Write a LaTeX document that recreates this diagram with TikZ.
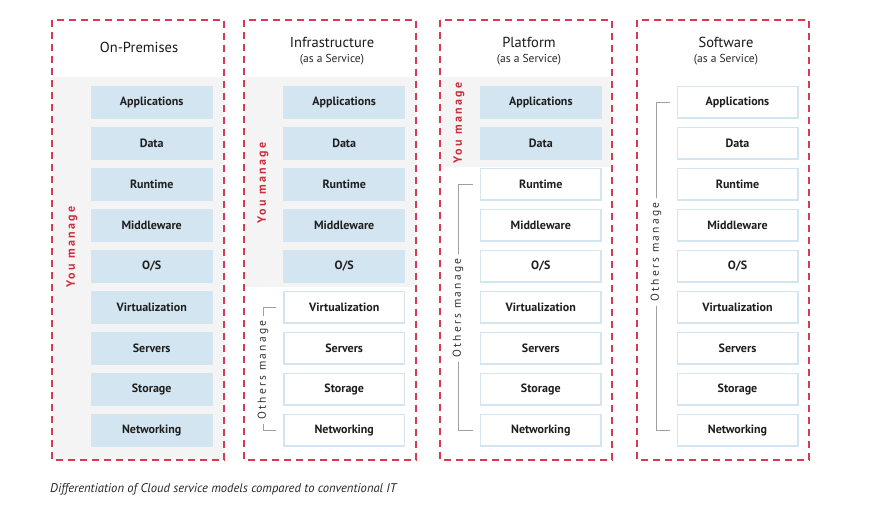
\documentclass[tikz,border=0pt]{standalone}
\usepackage{fontspec}
\setmainfont{PT Sans}
\definecolor{dashred}{HTML}{D93A52}
\definecolor{cellblue}{HTML}{D3E5F1}
\definecolor{bggray}{HTML}{F4F4F4}
\definecolor{brgray}{HTML}{A0A0A0}
\definecolor{youred}{HTML}{CC2E3E}
\begin{document}
\begin{tikzpicture}[x=1pt,y=-1pt,
  cell/.style={minimum width=122pt, minimum height=33pt, inner sep=0pt,
    font=\fontsize{12}{14}\selectfont\bfseries, text=black!88},
  own/.style={cell, fill=cellblue},
  ext/.style={cell, minimum width=120.5pt, minimum height=31.5pt, fill=white, draw=cellblue, line width=1.5pt},
  frame/.style={draw=dashred, line width=1.3pt, dash pattern=on 7pt off 5pt},
  title/.style={font=\fontsize{14.5}{16}\selectfont, text=black!90, inner sep=0pt},
  sub/.style={font=\fontsize{11.5}{13}\selectfont, text=black!85, inner sep=0pt},
  youm/.style={rotate=90, text=youred, inner sep=0pt,
    font=\fontsize{12}{14}\selectfont\bfseries\addfontfeatures{LetterSpace=20}},
  othm/.style={rotate=90, text=black!80, inner sep=4pt,
    font=\fontsize{11.5}{13}\selectfont\addfontfeatures{LetterSpace=19}},
  br/.style={draw=brgray, line width=1pt}
]
\useasboundingbox (0,0) rectangle (876,510);

% gray "you manage" backgrounds
\fill[bggray] (52,77) rectangle (224,460);
\fill[bggray] (244,77) rectangle (416,287);
\fill[bggray] (440,77) rectangle (612,167);

% dashed frames
\draw[frame] (52,20) rectangle (224,460);
\draw[frame] (244,20) rectangle (416,460);
\draw[frame] (440,20) rectangle (612,460);
\draw[frame] (637,20) rectangle (809,460);

% titles
\node[title] (t1) at (139,47) {On-Premises};
\node[title] (t2) at (332,42.5) {Infrastructure};
\node[sub] (s2) at (332,59.5) {(as a Service)};
\node[title] (t3) at (529,42.5) {Platform};
\node[sub] (s3) at (529,59.5) {(as a Service)};
\node[title] (t4) at (726,42.5) {Software};
\node[sub] (s4) at (726,59.5) {(as a Service)};

% cells
\foreach \cx/\n [count=\c] in {151.7/9, 344.2/5, 540.8/2, 737.5/0} {
  \foreach \lab [count=\r] in {Applications,Data,Runtime,Middleware,O/S,Virtualization,Servers,Storage,Networking} {
    \ifnum\r>\n\relax
      \tikzset{cur/.style={ext}}
    \else
      \tikzset{cur/.style={own}}
    \fi
    \node[cur] (c\c r\r) at (\cx, 61.5+41*\r) {\lab};
  }
}

% "You manage" labels
\node[youm] (y1) at (72,247) {You manage};
\node[youm] (y2) at (263,183) {You manage};
\node[youm] (y3) at (459,123) {You manage};

% "Others manage" brackets
\node[othm] (o2) at (263,370) {Others manage};
\draw[br] (o2.east) |- ([xshift=-7pt]c2r6.west);
\draw[br] (o2.west) |- ([xshift=-7pt]c2r9.west);

\node[othm] (o3) at (458,308) {Others manage};
\draw[br] (o3.east) |- ([xshift=-7pt]c3r3.west);
\draw[br] (o3.west) |- ([xshift=-7pt]c3r9.west);

\node[othm] (o4) at (656,252) {Others manage};
\draw[br] (o4.east) |- ([xshift=-7pt]c4r1.west);
\draw[br] (o4.west) |- ([xshift=-7pt]c4r9.west);

% caption
\node[anchor=west, inner sep=0pt, font=\fontsize{12.6}{14}\selectfont\itshape, text=black!85] (cap) at (50,489)
  {Differentiation of Cloud service models compared to conventional IT};
\end{tikzpicture}
\end{document}
